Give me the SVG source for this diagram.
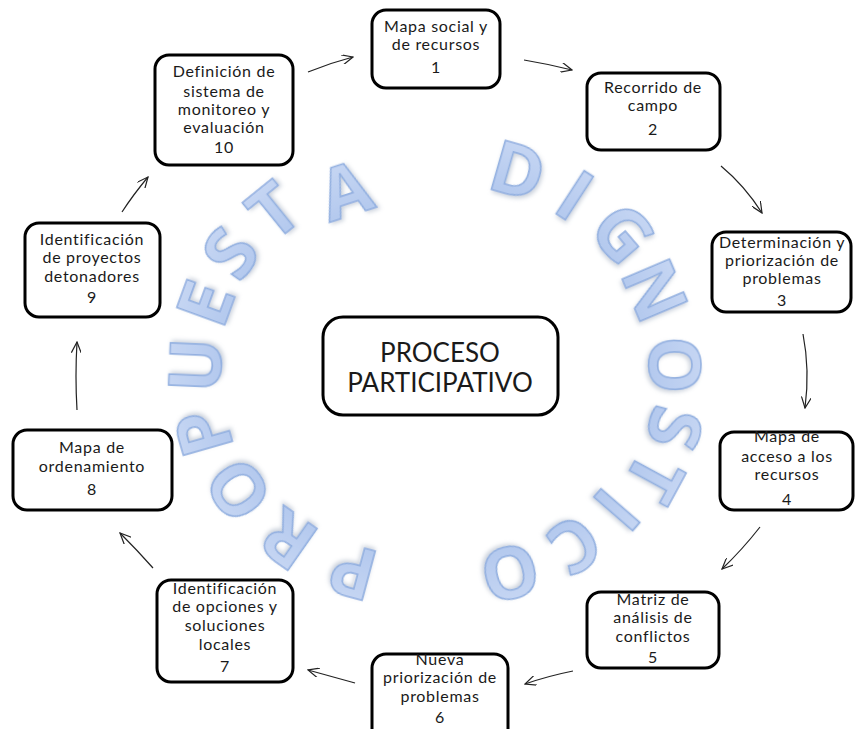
<svg xmlns="http://www.w3.org/2000/svg" width="856" height="729" viewBox="0 0 856 729">
  <defs>
    <style>
      .box { fill: #ffffff; stroke: #000000; stroke-width: 3; }
      .lbl { font-family: Lato, "Liberation Sans", sans-serif; font-size: 16px; fill: #1a1a1a; text-anchor: middle; letter-spacing: 0.7px; }
      .big { font-family: Lato, "Liberation Sans", sans-serif; font-size: 26px; fill: #1a1a1a; text-anchor: middle; }
      .edge { fill: none; stroke: #222222; stroke-width: 1.2; marker-end: url(#head); }
      .arc { font-family: "Open Sans", "Liberation Sans", sans-serif; font-weight: 700; font-size: 72px; text-anchor: middle; fill: url(#letterFill); stroke: #93b0e0; stroke-width: 1.6; filter: url(#soft); }
    </style>
    <linearGradient id="letterFill" x1="0" y1="0" x2="0" y2="1">
      <stop offset="0" stop-color="#cddbf5"/>
      <stop offset="1" stop-color="#adc4ec"/>
    </linearGradient>
    <filter id="soft" x="-30%" y="-30%" width="160%" height="160%">
      <feGaussianBlur in="SourceAlpha" stdDeviation="2"/>
      <feOffset dx="1.5" dy="2" result="sh"/>
      <feFlood flood-color="#7f8fa8" flood-opacity="0.4"/>
      <feComposite in2="sh" operator="in" result="shadow"/>
      <feMerge>
        <feMergeNode in="shadow"/>
        <feMergeNode in="SourceGraphic"/>
      </feMerge>
    </filter>
    <marker id="head" viewBox="0 0 12 10" refX="11" refY="5" markerWidth="12" markerHeight="10" markerUnits="userSpaceOnUse" orient="auto">
      <path d="M0,0 L11,5 L0,10" fill="none" stroke="#222222" stroke-width="1.2"/>
    </marker>
  </defs>

  <rect width="856" height="729" fill="#ffffff"/>

  <!-- curved lettering: DIGNOSTICO on the right arc -->
  <g id="arc-diagnostico">
    <text class="arc" transform="translate(518,170) rotate(16)" y="26">D</text>
    <text class="arc" transform="translate(575,195) rotate(33)" y="26">I</text>
    <text class="arc" transform="translate(623,233) rotate(49.5)" y="26">G</text>
    <text class="arc" transform="translate(655,290) rotate(67)" y="26">N</text>
    <text class="arc" transform="translate(675,365) rotate(88)" y="26">O</text>
    <text class="arc" transform="translate(675,428) rotate(104.5)" y="26">S</text>
    <text class="arc" transform="translate(655,478) rotate(118.5)" y="26">T</text>
    <text class="arc" transform="translate(617,510) rotate(131)" y="26">I</text>
    <text class="arc" transform="translate(575,545) rotate(146)" y="26">C</text>
    <text class="arc" transform="translate(510,573) rotate(166)" y="26">O</text>
  </g>

  <!-- curved lettering: PROPUESTA on the left arc -->
  <g id="arc-propuesta">
    <text class="arc" transform="translate(353,572) rotate(195)" y="26">P</text>
    <text class="arc" transform="translate(288,540) rotate(215)" y="26">R</text>
    <text class="arc" transform="translate(238,490) rotate(235)" y="26">O</text>
    <text class="arc" transform="translate(203,433) rotate(254)" y="26">P</text>
    <text class="arc" transform="translate(195,365) rotate(272.5)" y="26">U</text>
    <text class="arc" transform="translate(205,303) rotate(290)" y="26">E</text>
    <text class="arc" transform="translate(230,253) rotate(305)" y="26">S</text>
    <text class="arc" transform="translate(273,210) rotate(321)" y="26">T</text>
    <text class="arc" transform="translate(345,190) rotate(342)" y="26">A</text>
  </g>

  <!-- connectors -->
  <g id="connectors">
    <path class="edge" d="M308,72 Q330,63 353,57"/>
    <path class="edge" d="M524,60 Q548,64 572,70"/>
    <path class="edge" d="M721,166 Q745,186 762,213"/>
    <path class="edge" d="M803,334 Q810,370 805,408"/>
    <path class="edge" d="M760,527 Q742,550 722,569"/>
    <path class="edge" d="M573,671 Q548,676 525,684"/>
    <path class="edge" d="M355,683 Q330,676 308,670"/>
    <path class="edge" d="M153,568 Q138,551 120,533"/>
    <path class="edge" d="M77,410 Q75,376 77,342"/>
    <path class="edge" d="M122,212 Q133,195 148,177"/>
  </g>

  <!-- steps -->
  <g id="step-1">
    <rect class="box" x="372" y="10" width="128" height="78" rx="14"/>
    <text class="lbl" x="436" y="32">Mapa social y</text>
    <text class="lbl" x="436" y="50">de recursos</text>
    <text class="lbl" x="436" y="73">1</text>
  </g>
  <g id="step-2">
    <rect class="box" x="587" y="73" width="133" height="77" rx="14"/>
    <text class="lbl" x="653" y="93">Recorrido de</text>
    <text class="lbl" x="653" y="111">campo</text>
    <text class="lbl" x="653" y="135">2</text>
  </g>
  <g id="step-3">
    <rect class="box" x="712" y="232" width="139" height="80" rx="14"/>
    <text class="lbl" x="782" y="248">Determinación y</text>
    <text class="lbl" x="782" y="266">priorización de</text>
    <text class="lbl" x="782" y="284">problemas</text>
    <text class="lbl" x="782" y="306">3</text>
  </g>
  <g id="step-4">
    <rect class="box" x="720" y="432" width="133" height="78" rx="14"/>
    <text class="lbl" x="787" y="442">Mapa de</text>
    <text class="lbl" x="787" y="462">acceso a los</text>
    <text class="lbl" x="787" y="480">recursos</text>
    <text class="lbl" x="787" y="505">4</text>
  </g>
  <g id="step-5">
    <rect class="box" x="587" y="592" width="132" height="76" rx="14"/>
    <text class="lbl" x="653" y="605">Matriz de</text>
    <text class="lbl" x="653" y="623">análisis de</text>
    <text class="lbl" x="653" y="642">conflictos</text>
    <text class="lbl" x="653" y="663">5</text>
  </g>
  <g id="step-6">
    <rect class="box" x="372" y="654" width="136" height="90" rx="14"/>
    <text class="lbl" x="440" y="665">Nueva</text>
    <text class="lbl" x="440" y="683">priorización de</text>
    <text class="lbl" x="440" y="702">problemas</text>
    <text class="lbl" x="440" y="723">6</text>
  </g>
  <g id="step-7">
    <rect class="box" x="157" y="580" width="136" height="102" rx="14"/>
    <text class="lbl" x="225" y="594">Identificación</text>
    <text class="lbl" x="225" y="612">de opciones y</text>
    <text class="lbl" x="225" y="631">soluciones</text>
    <text class="lbl" x="225" y="650">locales</text>
    <text class="lbl" x="225" y="672">7</text>
  </g>
  <g id="step-8">
    <rect class="box" x="13" y="430" width="159" height="80" rx="14"/>
    <text class="lbl" x="92" y="453">Mapa de</text>
    <text class="lbl" x="92" y="472">ordenamiento</text>
    <text class="lbl" x="92" y="495">8</text>
  </g>
  <g id="step-9">
    <rect class="box" x="25" y="223" width="135" height="94" rx="14"/>
    <text class="lbl" x="92" y="245">Identificación</text>
    <text class="lbl" x="92" y="263">de proyectos</text>
    <text class="lbl" x="92" y="282">detonadores</text>
    <text class="lbl" x="92" y="303">9</text>
  </g>
  <g id="step-10">
    <rect class="box" x="155" y="55" width="138" height="110" rx="14"/>
    <text class="lbl" x="224" y="77">Definición de</text>
    <text class="lbl" x="224" y="97">sistema de</text>
    <text class="lbl" x="224" y="115">monitoreo y</text>
    <text class="lbl" x="224" y="133">evaluación</text>
    <text class="lbl" x="224" y="153">10</text>
  </g>

  <!-- central node -->
  <g id="center">
    <rect class="box" x="323" y="317" width="235" height="98" rx="20"/>
    <text class="big" x="440" y="362">PROCESO</text>
    <text class="big" x="440" y="392">PARTICIPATIVO</text>
  </g>
</svg>
